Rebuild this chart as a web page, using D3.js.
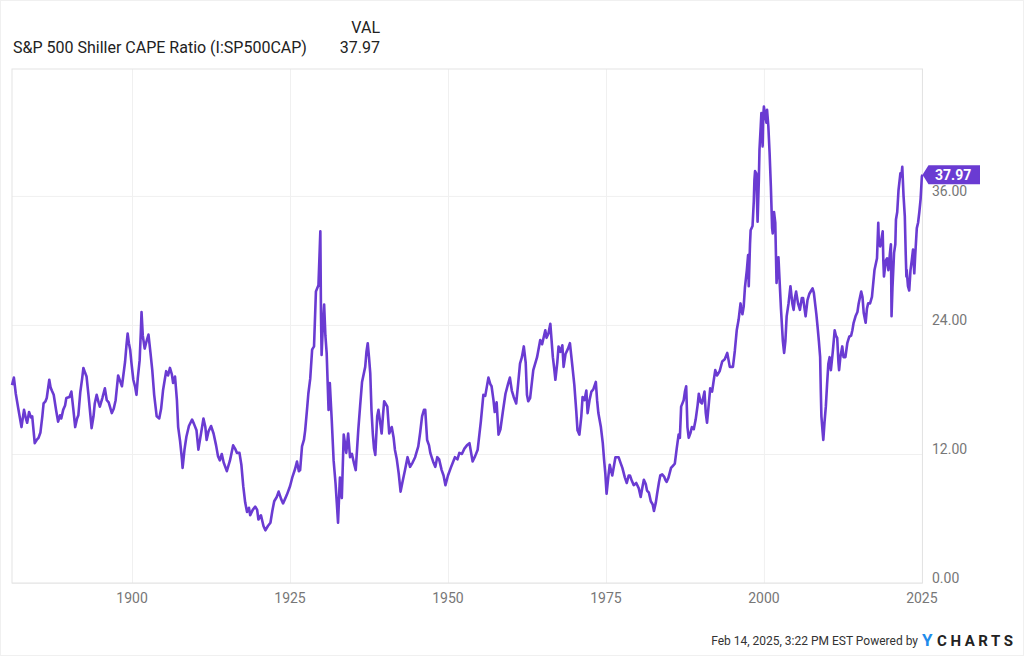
<!DOCTYPE html>
<html>
<head>
<meta charset="utf-8">
<script src="https://cdn.jsdelivr.net/npm/d3@7"></script>
<style>
	body { margin: 0; background: #fff; }
	#canvas { width: 1024px; height: 656px; }
	text { font-family: Roboto, "Noto Sans", sans-serif; }
</style>
</head>
<body>
<div id="canvas"></div>
<script>
// S&P 500 Shiller CAPE (fractional year, ratio)
var years = [
	1881.0,1881.3,1881.6,1882.0,1882.5,1882.9,1883.2,1883.4,1883.7,1884.0,1884.2,1884.6,1884.9,1885.2,1885.5,1885.8,
	1886.0,1886.3,1886.5,1886.9,1887.1,1887.3,1887.6,1888.0,1888.3,1888.6,1888.8,1889.1,1889.4,1889.6,1890.1,1890.4,
	1890.7,1891.0,1891.3,1891.5,1891.8,1892.1,1892.3,1892.6,1892.8,1893.1,1893.6,1893.9,1894.1,1894.4,1894.7,1894.9,
	1895.3,1895.7,1896.0,1896.3,1896.8,1897.1,1897.4,1897.8,1898.1,1898.4,1898.9,1899.1,1899.3,1899.5,1899.7,1899.9,
	1900.2,1900.5,1900.7,1900.9,1901.2,1901.4,1901.5,1901.7,1902.0,1902.3,1902.6,1902.9,1903.2,1903.5,1903.9,1904.3,
	1904.6,1904.9,1905.2,1905.4,1905.7,1906.0,1906.3,1906.5,1906.8,1907.1,1907.3,1907.6,1907.9,1908.0,1908.3,1908.6,
	1909.0,1909.5,1909.8,1910.2,1910.5,1910.8,1911.0,1911.3,1911.6,1911.8,1912.1,1912.5,1912.9,1913.3,1913.6,1913.9,
	1914.2,1914.5,1915.0,1915.5,1916.0,1916.3,1916.6,1917.0,1917.3,1917.6,1917.9,1918.2,1918.5,1918.7,1919.1,1919.5,
	1919.8,1920.0,1920.4,1920.8,1921.1,1921.5,1921.9,1922.2,1922.5,1922.9,1923.2,1923.6,1923.9,1924.2,1924.5,1925.0,
	1925.4,1925.8,1926.1,1926.4,1926.6,1926.9,1927.2,1927.4,1927.7,1927.9,1928.2,1928.5,1928.8,1929.1,1929.5,1929.7,
	1929.8,1929.9,1930.0,1930.2,1930.4,1930.6,1930.8,1931.1,1931.3,1931.6,1931.9,1932.2,1932.4,1932.6,1932.8,1932.9,
	1933.2,1933.5,1933.7,1933.9,1934.2,1934.5,1934.8,1935.1,1935.4,1935.8,1936.1,1936.4,1936.9,1937.1,1937.3,1937.5,
	1937.7,1937.9,1938.1,1938.3,1938.5,1938.8,1939.0,1939.3,1939.5,1939.7,1939.9,1940.2,1940.4,1940.7,1941.1,1941.4,
	1941.6,1941.9,1942.2,1942.5,1942.8,1943.2,1943.6,1944.0,1944.4,1944.8,1945.3,1945.6,1945.9,1946.2,1946.4,1946.7,
	1947.0,1947.2,1947.7,1948.0,1948.3,1948.6,1949.0,1949.3,1949.6,1950.0,1950.5,1951.1,1951.5,1951.8,1952.2,1952.6,
	1953.0,1953.4,1953.9,1954.3,1954.7,1955.2,1955.6,1955.9,1956.4,1956.7,1956.9,1957.2,1957.4,1957.7,1958.0,1958.3,
	1958.7,1959.1,1959.5,1959.8,1960.1,1960.4,1960.8,1961.1,1961.4,1961.7,1962.0,1962.3,1962.5,1962.7,1963.0,1963.5,
	1964.1,1964.6,1964.9,1965.4,1965.6,1965.9,1966.2,1966.6,1966.8,1967.0,1967.3,1967.5,1967.8,1968.1,1968.3,1968.6,
	1969.0,1969.3,1969.7,1970.0,1970.3,1970.5,1970.8,1971.1,1971.3,1971.6,1971.9,1972.1,1972.4,1972.7,1973.0,1973.4,
	1973.6,1973.8,1974.2,1974.5,1974.7,1974.9,1975.1,1975.4,1975.6,1976.0,1976.3,1976.5,1977.0,1977.3,1977.6,1978.0,
	1978.3,1978.6,1978.8,1979.1,1979.4,1979.8,1980.2,1980.5,1980.8,1981.0,1981.3,1981.5,1981.8,1982.1,1982.4,1982.6,
	1982.9,1983.1,1983.4,1983.6,1983.9,1984.2,1984.4,1984.6,1984.9,1985.3,1985.6,1985.9,1986.2,1986.5,1986.7,1986.9,
	1987.3,1987.5,1987.7,1987.9,1988.1,1988.4,1988.6,1988.9,1989.2,1989.5,1989.7,1990.0,1990.2,1990.6,1990.8,1991.0,
	1991.3,1991.5,1991.8,1992.0,1992.3,1992.6,1993.0,1993.4,1993.8,1994.2,1994.6,1995.1,1995.4,1995.7,1996.0,1996.3,
	1996.6,1996.8,1997.0,1997.3,1997.5,1997.6,1997.8,1997.9,1998.2,1998.4,1998.5,1998.6,1998.8,1999.0,1999.2,1999.3,
	1999.5,1999.6,1999.8,1999.9,2000.0,2000.2,2000.4,2000.5,2000.7,2000.9,2001.1,2001.3,2001.4,2001.6,2001.8,2002.0,
	2002.3,2002.5,2002.7,2002.9,2003.0,2003.2,2003.4,2003.6,2003.9,2004.2,2004.5,2004.7,2004.9,2005.1,2005.4,2005.7,
	2006.0,2006.2,2006.6,2006.9,2007.2,2007.5,2007.7,2007.9,2008.1,2008.3,2008.5,2008.7,2008.9,2009.0,2009.1,2009.3,
	2009.4,2009.6,2009.8,2010.0,2010.2,2010.4,2010.6,2010.9,2011.2,2011.4,2011.6,2011.8,2011.9,2012.1,2012.4,2012.6,
	2012.9,2013.2,2013.5,2013.8,2014.0,2014.2,2014.5,2014.8,2015.0,2015.4,2015.6,2015.8,2016.1,2016.3,2016.5,2016.8,
	2017.1,2017.5,2017.9,2018.1,2018.2,2018.4,2018.6,2018.8,2018.9,2019.0,2019.3,2019.5,2019.7,2020.0,2020.1,2020.2,
	2020.35,2020.6,2020.8,2020.9,2021.1,2021.3,2021.6,2021.75,2021.9,2022.1,2022.3,2022.45,2022.55,2022.6,2022.8,2023.0,
	2023.2,2023.4,2023.6,2023.8,2023.95,2024.2,2024.4,2024.6,2024.8,2025.0,2025.1
];
var cape = [
	18.4,19.1,17.6,16.2,14.5,16.1,15.3,14.9,15.9,15.4,15.5,13.0,13.3,13.5,14.0,15.5,
	16.7,16.9,17.2,18.9,18.2,17.9,17.5,16.0,15.0,15.6,15.3,16.1,16.5,17.2,17.3,17.8,
	16.2,14.5,15.3,15.6,17.7,19.0,20.0,19.5,19.2,17.5,14.4,15.5,16.7,17.5,16.8,16.4,
	17.2,18.1,17.0,16.8,15.8,16.2,17.0,19.3,18.8,18.3,20.6,22.0,23.2,22.3,21.7,20.5,
	18.9,18.2,17.5,19.0,20.7,23.5,25.2,23.0,21.8,22.5,23.1,21.5,19.8,17.5,15.5,15.3,
	16.2,17.9,19.0,19.7,19.3,20.0,19.4,18.6,19.2,17.0,14.5,13.2,11.5,10.7,12.4,13.6,
	14.6,15.2,14.8,14.2,12.4,13.5,14.2,15.3,14.5,13.3,14.1,14.6,13.9,12.8,11.8,11.4,
	12.0,11.2,10.4,11.4,12.8,12.5,12.1,12.1,11.0,9.0,7.5,6.6,7.0,6.3,6.8,7.1,
	6.8,5.9,6.3,5.3,4.9,5.3,5.6,6.7,7.6,8.0,8.5,7.8,7.4,7.8,8.2,9.0,
	9.9,10.6,11.3,10.4,10.5,12.7,13.3,14.2,16.2,17.6,19.0,21.7,22.0,27.1,27.7,31.0,
	32.7,25.0,21.2,24.0,25.9,23.0,21.4,16.1,18.6,15.2,11.4,9.3,7.5,5.6,8.5,9.8,
	7.9,13.8,13.0,12.1,13.9,11.7,12.0,11.2,10.5,14.2,16.5,18.7,20.1,21.5,22.3,21.0,
	19.5,16.0,13.9,12.5,11.9,15.5,16.1,14.8,13.9,15.5,16.9,16.6,16.4,13.9,14.5,13.5,
	12.4,11.5,10.2,8.5,9.4,10.5,11.7,10.8,11.2,11.7,12.7,14.0,15.5,16.1,16.1,13.3,
	12.8,12.1,11.2,10.8,11.7,11.5,10.5,10.0,9.1,10.0,10.8,11.7,11.5,12.1,12.0,12.5,
	12.8,13.0,11.3,11.8,12.4,15.0,17.5,17.4,19.1,18.5,18.3,17.0,15.9,16.8,13.8,14.3,
	16.0,17.6,18.5,19.1,17.9,17.3,16.7,18.5,20.4,21.0,22.0,20.5,17.5,16.9,17.2,19.8,
	21.0,22.6,22.2,23.5,22.8,23.2,24.1,21.0,20.0,18.9,20.5,22.0,21.5,22.1,20.1,21.3,
	21.8,22.3,20.1,18.4,16.0,14.2,13.8,15.5,17.3,17.0,17.9,15.8,17.0,17.8,18.0,18.7,
	17.0,15.8,14.5,13.0,11.5,10.2,8.3,10.0,11.0,10.0,11.0,11.7,11.7,11.2,10.7,9.8,
	9.3,10.0,10.0,9.5,9.1,9.3,8.8,8.0,9.0,9.6,9.2,8.6,8.4,7.6,7.3,6.7,
	7.5,8.3,9.4,10.0,10.1,9.9,9.6,9.4,9.8,10.7,10.9,11.1,12.5,13.8,13.5,16.4,
	17.0,17.8,18.3,14.5,13.5,14.0,14.5,14.3,15.2,16.5,17.6,16.8,16.7,17.8,15.8,14.9,
	16.8,18.1,17.8,18.6,19.8,19.3,19.7,20.6,20.8,21.4,20.1,20.1,21.6,23.5,24.5,26.0,
	25.0,25.7,27.5,29.1,30.5,27.6,31.5,32.8,33.2,35.5,37.5,38.3,38.1,33.6,37.5,40.3,
	42.5,43.7,40.6,43.5,44.3,43.5,42.8,44.0,42.5,40.0,36.9,33.0,32.5,34.5,33.5,27.9,
	30.3,27.9,25.5,23.5,22.5,21.4,22.5,24.8,26.0,27.6,26.0,25.4,26.5,27.1,26.0,25.4,
	26.5,26.5,24.8,26.3,26.9,27.2,27.4,27.0,26.0,25.0,23.8,22.5,21.0,18.0,15.5,14.0,
	13.3,15.0,16.4,18.5,20.4,21.0,19.8,21.5,23.5,23.0,22.8,20.5,19.8,21.0,22.0,21.0,
	21.0,22.3,22.9,23.0,23.5,24.2,24.8,25.2,26.0,27.1,26.6,25.1,24.2,25.5,26.0,26.0,
	26.6,29.1,30.2,33.5,31.5,31.3,32.0,32.7,30.0,28.5,30.0,30.2,29.1,31.0,31.5,24.8,
	27.5,30.7,31.5,33.8,34.5,36.5,38.1,37.8,38.7,36.0,34.1,30.5,28.5,29.1,27.6,27.2,
	29.1,30.0,31.0,28.8,30.5,33.0,33.5,34.5,35.7,37.8,37.97
];
var xTicks = [1900, 1925, 1950, 1975, 2000, 2025];
var yTicks = [0, 12, 24, 36];
var seriesName = "S&P 500 Shiller CAPE Ratio (I:SP500CAP)";
var footerText = "Feb 14, 2025, 3:22 PM EST Powered by";

drawVis();

function drawVis(){
	var w = 1024, h = 656;
	var lineColor = "#6a3bd2";
	var left = 12, right = 922.5, top = 69, bottom = 583;

	var svg = d3.select("#canvas")
		.append("svg")
		.attr("width", w)
		.attr("height", h);

	svg.append("rect")
		.attr("x", 0.5).attr("y", 0.5)
		.attr("width", w - 1).attr("height", h - 1)
		.attr("fill", "#fff")
		.attr("stroke", "#f0f0f0");

	var data = years.map(function(d, i){ return {year: d, value: cape[i]}; });
	var last = data[data.length - 1];

	var xScale = d3.scaleLinear()
		.domain([1881, 2025.1])
		.range([left, right]);

	var yScale = d3.scaleLinear()
		.domain([0, 47.8])
		.range([bottom, top]);

	// legend table
	svg.append("text")
		.attr("x", 380).attr("y", 33)
		.attr("text-anchor", "end")
		.attr("font-size", 16)
		.attr("fill", "#222")
		.text("VAL");
	svg.append("text")
		.attr("x", 13).attr("y", 53)
		.attr("font-size", 16)
		.attr("fill", "#222")
		.text(seriesName);
	svg.append("text")
		.attr("x", 380).attr("y", 53)
		.attr("text-anchor", "end")
		.attr("font-size", 16)
		.attr("fill", "#222")
		.text(last.value.toFixed(2));

	// grid
	svg.append("g")
		.attr("transform", "translate(0," + bottom + ")")
		.call(d3.axisBottom(xScale).tickValues(xTicks).tickSize(-(bottom - top)).tickFormat(""))
		.call(function(g){
			g.select(".domain").remove();
			g.selectAll("line").attr("stroke", "#f0f0f0");
		});
	svg.append("g")
		.attr("transform", "translate(" + left + ",0)")
		.call(d3.axisLeft(yScale).tickValues(yTicks).tickSize(-(right - left)).tickFormat(""))
		.call(function(g){
			g.select(".domain").remove();
			g.selectAll("line").attr("stroke", "#f0f0f0");
		});

	svg.append("rect")
		.attr("x", left).attr("y", top)
		.attr("width", right - left).attr("height", bottom - top)
		.attr("fill", "none")
		.attr("stroke", "#e3e3e3");

	// axis labels
	svg.append("g")
		.selectAll("text")
		.data(xTicks)
		.enter()
		.append("text")
		.attr("x", function(d){ return xScale(d); })
		.attr("y", 603)
		.attr("text-anchor", "middle")
		.attr("font-size", 14)
		.attr("fill", "#777")
		.text(function(d){ return d; });

	svg.append("g")
		.selectAll("text")
		.data(yTicks)
		.enter()
		.append("text")
		.attr("x", 932)
		.attr("y", function(d){ return yScale(d); })
		.attr("font-size", 14)
		.attr("fill", "#777")
		.text(function(d){ return d3.format(".2f")(d); });

	// the series
	var line = d3.line()
		.x(function(d){ return xScale(d.year); })
		.y(function(d){ return yScale(d.value); });

	svg.append("path")
		.datum(data)
		.attr("d", line)
		.attr("fill", "none")
		.attr("stroke", lineColor)
		.attr("stroke-width", 2.6)
		.attr("stroke-linejoin", "round");

	// last value tag
	var tx = xScale(last.year), ty = yScale(last.value);
	svg.append("path")
		.attr("d", "M" + tx + "," + ty + "L" + (tx + 6) + "," + (ty - 9.5) + "H980V" + (ty + 9.5) + "H" + (tx + 6) + "Z")
		.attr("fill", lineColor);
	svg.append("text")
		.attr("x", 935)
		.attr("y", ty + 5)
		.attr("font-size", 14)
		.attr("font-weight", "bold")
		.attr("fill", "#fff")
		.text(last.value.toFixed(2));

	// footer
	svg.append("text")
		.attr("x", 918).attr("y", 645)
		.attr("text-anchor", "end")
		.attr("font-size", 12)
		.attr("fill", "#333")
		.text(footerText);
	svg.append("text")
		.attr("x", 922).attr("y", 646)
		.attr("font-size", 17)
		.attr("font-weight", "bold")
		.attr("fill", "#1f8ceb")
		.text("Y");
	svg.append("text")
		.attr("x", 937).attr("y", 646)
		.attr("font-size", 15)
		.attr("font-weight", "bold")
		.attr("fill", "#222")
		.attr("textLength", 76)
		.attr("lengthAdjust", "spacing")
		.text("CHARTS");
}
</script>
</body>
</html>
